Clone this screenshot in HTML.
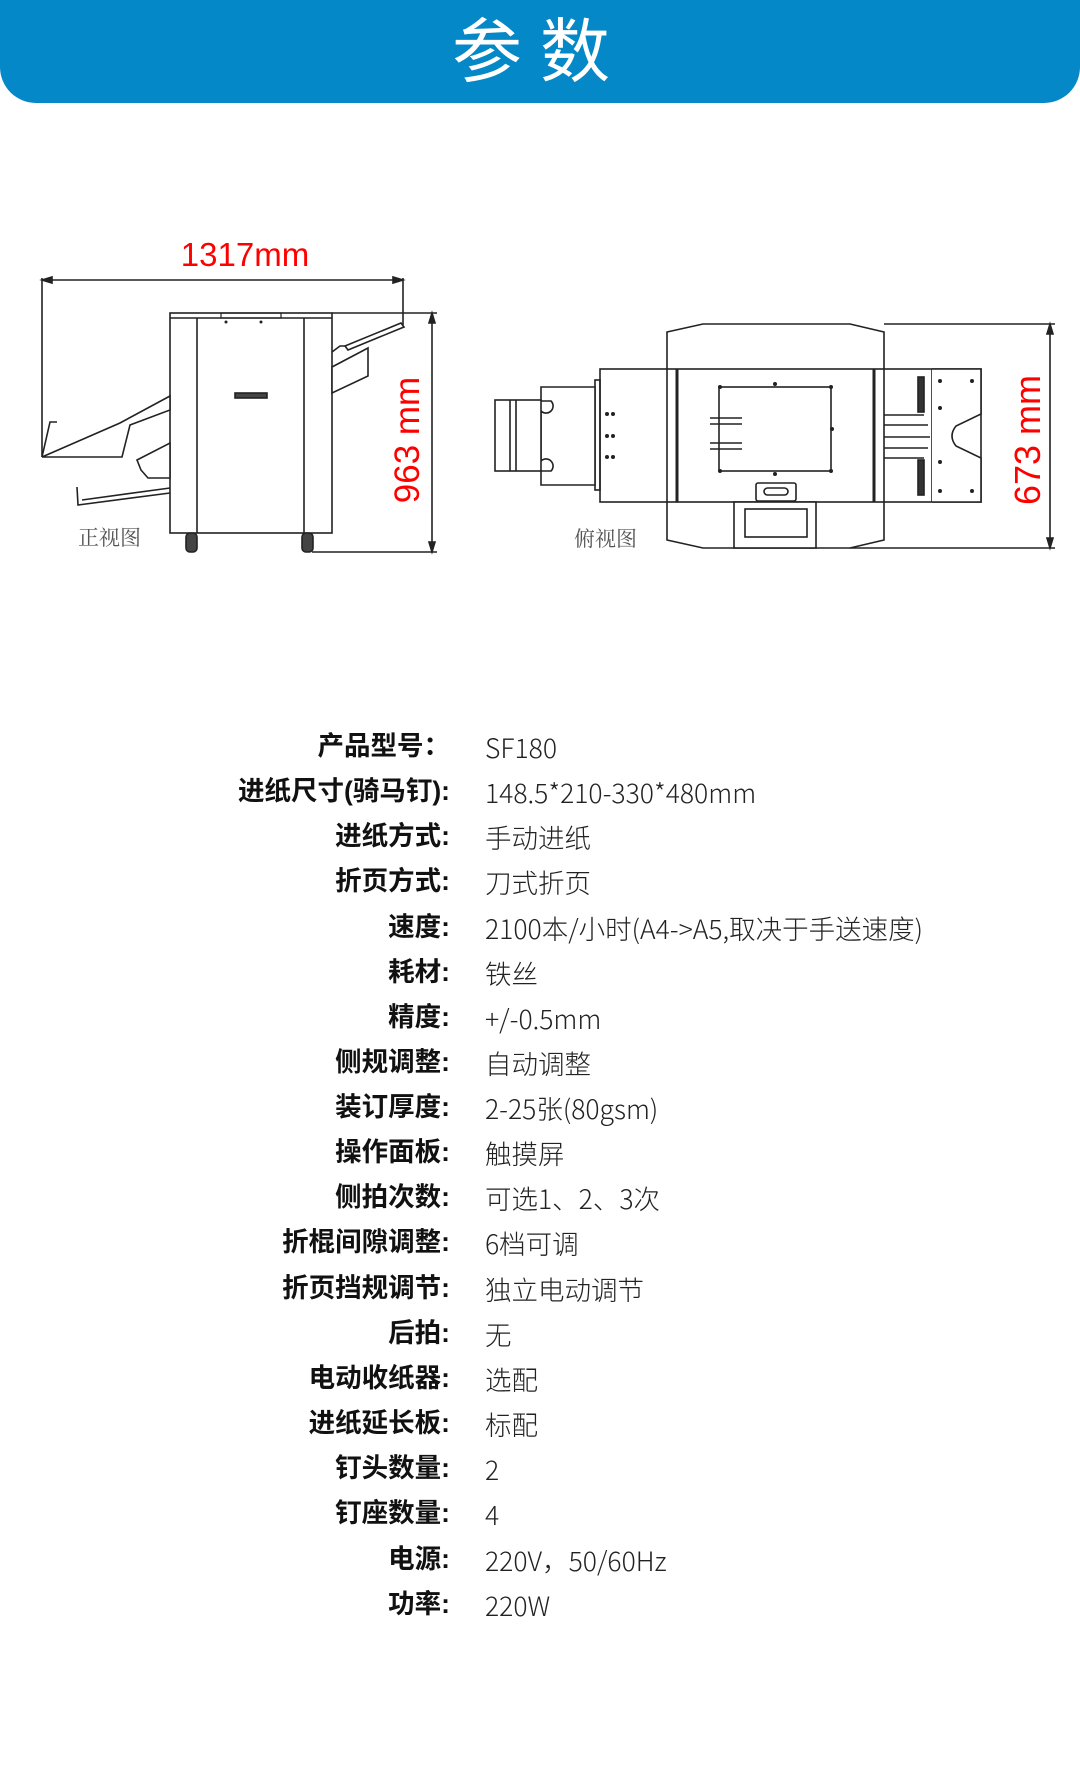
<!DOCTYPE html>
<html><head><meta charset="utf-8">
<style>
html,body{margin:0;padding:0;background:#fff;}
body{width:1080px;height:1781px;position:relative;overflow:hidden;}
.row{position:absolute;left:0;width:1080px;height:45px;line-height:45px;font-size:26.5px;color:#111;}
.l{position:absolute;right:630px;font-family:"Liberation Sans","Noto Sans CJK SC",sans-serif;font-weight:700;white-space:nowrap;}
.v{position:absolute;left:485px;font-family:"Noto Sans CJK SC","Liberation Sans",sans-serif;font-weight:300;white-space:nowrap;color:#222;}
</style></head><body>
<svg width="1080" height="620" style="position:absolute;left:0;top:0" xmlns="http://www.w3.org/2000/svg">
<rect x="0" y="-40" width="1080" height="143" rx="36" fill="#0588c7"/>
<text x="540" y="76" text-anchor="middle" font-family="Noto Sans CJK SC,sans-serif" font-size="70" fill="#fff" letter-spacing="18">参数</text>

<g stroke="#222" stroke-width="1.6" fill="none">
<line x1="42" y1="280" x2="403" y2="280"/>
<path d="M42 280 l10 -3 v6 z M403 280 l-10 -3 v6 z" fill="#222"/>
<line x1="42" y1="278" x2="42" y2="457"/>
<line x1="403" y1="278" x2="403" y2="325"/>
<rect x="170" y="313" width="162" height="220" fill="#fff"/>
<line x1="170" y1="318" x2="332" y2="318"/>
<line x1="197" y1="318" x2="197" y2="533"/>
<line x1="304" y1="318" x2="304" y2="533"/>
<rect x="221" y="313" width="60" height="5" stroke-width="1.2"/>
<rect x="235" y="393" width="32" height="5" fill="#444"/>
<rect x="186" y="533" width="11" height="19" rx="4" fill="#444"/>
<rect x="302" y="533" width="11" height="19" rx="4" fill="#444"/>
<polygon points="345,346 401,323 404,327 348,350" fill="#fff"/>
<polygon points="332,367 368,348 368,376 332,393" fill="#fff"/>
<polyline points="332,352 340,346 345,346"/>
<polygon points="42,457 122,457 130,425 170,410 170,396 120,423" fill="#fff"/>
<polyline points="42,457 50,422 57,422"/>
<polygon points="137,460 170,443 170,478 148,478 141,470" fill="#fff"/>
<polyline points="77,487 78,505 170,493"/>
<line x1="82" y1="500" x2="170" y2="488"/>
<line x1="432" y1="313" x2="432" y2="552"/>
<path d="M432 313 l-3 10 h6 z M432 552 l-3 -10 h6 z" fill="#222"/>
<line x1="332" y1="313" x2="437" y2="313"/>
<line x1="312" y1="552" x2="437" y2="552"/>

<polygon points="667,332 703,324 850,324 884,332 884,540 850,548 703,548 667,540" fill="#fff"/>
<rect x="600" y="369" width="381" height="133" fill="#fff"/>
<line x1="667" y1="369" x2="667" y2="502"/>
<line x1="884" y1="369" x2="884" y2="502"/>
<line x1="677" y1="369" x2="677" y2="502" stroke-width="3"/>
<line x1="874" y1="369" x2="874" y2="502" stroke-width="3"/>
<rect x="719" y="387" width="112" height="84"/>
<path d="M710 418 h32 M710 424 h32 M710 443 h32 M710 449 h32"/>
<rect x="595" y="380" width="5" height="110"/>
<path d="M541 387 h54 v98 h-54 v-14 h10 a5 5 0 0 0 -10 -10 v-50 a5 5 0 0 0 10 -10 h-10 z" fill="#fff"/>
<rect x="495" y="400" width="46" height="71" fill="#fff"/>
<line x1="510" y1="400" x2="510" y2="471"/>
<line x1="516" y1="400" x2="516" y2="471"/>
<line x1="932" y1="369" x2="932" y2="502"/>
<path d="M932 369 h49 v45 l-25 12 q-8 10 0 20 l25 12 v44 h-49" fill="#fff"/>
<rect x="918" y="377" width="6" height="35" fill="#333"/>
<rect x="918" y="460" width="6" height="35" fill="#333"/>
<path d="M884 415 h40 M884 425 h44 M884 437 h46 M884 448 h44 M884 458 h40"/>
<rect x="734" y="502" width="82" height="46" fill="#fff"/>
<rect x="745" y="509" width="62" height="28"/>
<rect x="756" y="483" width="40" height="18" rx="2" fill="#fff"/>
<rect x="764" y="488" width="24" height="7" rx="3.5"/>
<line x1="1050" y1="324" x2="1050" y2="548"/>
<path d="M1050 324 l-3 10 h6 z M1050 548 l-3 -10 h6 z" fill="#222"/>
<line x1="884" y1="324" x2="1055" y2="324"/>
<line x1="850" y1="548" x2="1055" y2="548"/>
</g>
<g fill="#222">
<circle cx="720" cy="387" r="2"/><circle cx="831" cy="387" r="2"/><circle cx="720" cy="471" r="2"/><circle cx="831" cy="471" r="2"/><circle cx="775" cy="384" r="2"/><circle cx="775" cy="474" r="2"/><circle cx="832" cy="429" r="2"/>
<circle cx="607" cy="414" r="2"/><circle cx="613" cy="414" r="2"/><circle cx="607" cy="436" r="2"/><circle cx="613" cy="436" r="2"/><circle cx="607" cy="457" r="2"/><circle cx="613" cy="457" r="2"/>
<circle cx="940" cy="381" r="2"/><circle cx="972" cy="381" r="2"/><circle cx="940" cy="408" r="2"/><circle cx="940" cy="462" r="2"/><circle cx="940" cy="491" r="2"/><circle cx="972" cy="491" r="2"/>
<circle cx="226" cy="322" r="1.5"/><circle cx="261" cy="322" r="1.5"/>
</g>
<text x="245" y="266" text-anchor="middle" font-family="Liberation Sans,sans-serif" font-size="33" fill="#f00">1317mm</text>
<text transform="translate(419,440) rotate(-90)" text-anchor="middle" font-family="Liberation Sans,sans-serif" font-size="35" fill="#f00">963 mm</text>
<text transform="translate(1040,440) rotate(-90)" text-anchor="middle" font-family="Liberation Sans,sans-serif" font-size="36" fill="#f00">673 mm</text>
<text x="78" y="545" font-family="Noto Serif CJK SC,serif" font-size="21" fill="#555">正视图</text>
<text x="574" y="546" font-family="Noto Serif CJK SC,serif" font-size="21" fill="#555">俯视图</text>
</svg>

<div class="row" style="top:724px"><span class="l">产品型号：</span><span class="v">SF180</span></div>
<div class="row" style="top:769px"><span class="l">进纸尺寸(骑马钉):</span><span class="v">148.5*210-330*480mm</span></div>
<div class="row" style="top:814px"><span class="l">进纸方式:</span><span class="v">手动进纸</span></div>
<div class="row" style="top:859px"><span class="l">折页方式:</span><span class="v">刀式折页</span></div>
<div class="row" style="top:905px"><span class="l">速度:</span><span class="v">2100本/小时(A4-&gt;A5,取决于手送速度)</span></div>
<div class="row" style="top:950px"><span class="l">耗材:</span><span class="v">铁丝</span></div>
<div class="row" style="top:995px"><span class="l">精度:</span><span class="v">+/-0.5mm</span></div>
<div class="row" style="top:1040px"><span class="l">侧规调整:</span><span class="v">自动调整</span></div>
<div class="row" style="top:1085px"><span class="l">装订厚度:</span><span class="v">2-25张(80gsm)</span></div>
<div class="row" style="top:1130px"><span class="l">操作面板:</span><span class="v">触摸屏</span></div>
<div class="row" style="top:1175px"><span class="l">侧拍次数:</span><span class="v">可选1、2、3次</span></div>
<div class="row" style="top:1220px"><span class="l">折棍间隙调整:</span><span class="v">6档可调</span></div>
<div class="row" style="top:1266px"><span class="l">折页挡规调节:</span><span class="v">独立电动调节</span></div>
<div class="row" style="top:1311px"><span class="l">后拍:</span><span class="v">无</span></div>
<div class="row" style="top:1356px"><span class="l">电动收纸器:</span><span class="v">选配</span></div>
<div class="row" style="top:1401px"><span class="l">进纸延长板:</span><span class="v">标配</span></div>
<div class="row" style="top:1446px"><span class="l">钉头数量:</span><span class="v">2</span></div>
<div class="row" style="top:1491px"><span class="l">钉座数量:</span><span class="v">4</span></div>
<div class="row" style="top:1537px"><span class="l">电源:</span><span class="v">220V，50/60Hz</span></div>
<div class="row" style="top:1582px"><span class="l">功率:</span><span class="v">220W</span></div>
</body></html>
